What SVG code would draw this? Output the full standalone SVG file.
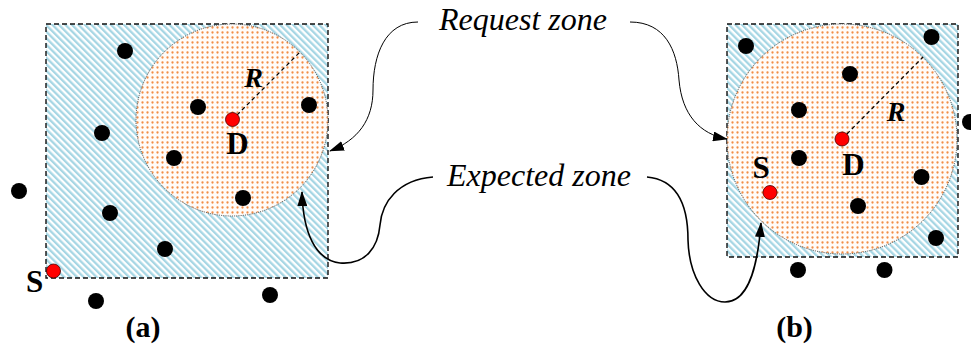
<svg xmlns="http://www.w3.org/2000/svg" width="971" height="344" viewBox="0 0 971 344">
  <style>
    .area { fill: url(#hatch); stroke: #111; stroke-width: 1.4; stroke-dasharray: 5 3; }
    .zone { fill: url(#dots); stroke: #333; stroke-width: 0.9; stroke-dasharray: 1 1.2; }
    .node { fill: #000; }
    .end { fill: #ff0000; stroke: #400; stroke-width: 0.8; }
    .radius { stroke: #000; stroke-width: 1.2; stroke-dasharray: 4 3; fill: none; }
    .lbl { font-family: "Liberation Serif", "Times New Roman", serif; font-weight: bold; font-size: 31px; text-anchor: middle; fill: #000; }
    .rlbl { font-family: "Liberation Serif", "Times New Roman", serif; font-weight: bold; font-style: italic; font-size: 28px; text-anchor: middle; fill: #000; }
    .caption { font-family: "Liberation Serif", "Times New Roman", serif; font-style: italic; font-size: 32px; text-anchor: middle; fill: #000; }
    .sub { font-family: "Liberation Serif", "Times New Roman", serif; font-weight: bold; font-size: 30px; text-anchor: middle; fill: #000; }
    .thin { fill: none; stroke: #000; stroke-width: 1; marker-end: url(#tip); }
    .thick { fill: none; stroke: #000; stroke-width: 1.6; marker-end: url(#tip); }
  </style>
  <defs>
    <pattern id="hatch" width="4.6" height="4.6" patternUnits="userSpaceOnUse" patternTransform="rotate(-45)">
      <rect width="4.6" height="4.6" fill="#fff"/>
      <rect width="2.3" height="4.6" fill="#a6d6e4"/>
    </pattern>
    <pattern id="dots" width="5" height="5" patternUnits="userSpaceOnUse">
      <rect width="5" height="5" fill="#fffbf8"/>
      <circle cx="2.5" cy="2.5" r="1.15" fill="#f28c44"/>
    </pattern>
    <marker id="tip" viewBox="0 0 15 10" refX="14" refY="5" markerWidth="15" markerHeight="10" markerUnits="userSpaceOnUse" orient="auto">
      <path d="M0,0 L15,5 L0,10 Z" fill="#000"/>
    </marker>
  </defs>

  <!-- panel (a) -->
  <g id="panel-a">
    <rect id="area-a" class="area" x="46" y="24" width="282" height="254"/>
    <circle id="zone-a" class="zone" cx="232" cy="120" r="96"/>
    <line class="radius" x1="232" y1="120" x2="300" y2="52"/>
    <g id="nodes-a">
      <circle class="node" cx="125" cy="51" r="8"/>
      <circle class="node" cx="198" cy="107" r="8"/>
      <circle class="node" cx="309" cy="105" r="8"/>
      <circle class="node" cx="102" cy="133" r="8"/>
      <circle class="node" cx="174" cy="158" r="8"/>
      <circle class="node" cx="243" cy="198" r="8"/>
      <circle class="node" cx="110" cy="213" r="8"/>
      <circle class="node" cx="165" cy="249" r="8"/>
      <circle class="node" cx="19" cy="191" r="8"/>
      <circle class="node" cx="96" cy="301" r="8"/>
      <circle class="node" cx="270" cy="295" r="8"/>
    </g>
    <g id="D-a">
      <circle class="end" cx="232.5" cy="119.5" r="7"/>
      <text class="lbl" x="237.5" y="154">D</text>
    </g>
    <g id="S-a">
      <circle class="end" cx="53.5" cy="271" r="7"/>
      <text class="lbl" x="34.5" y="292">S</text>
    </g>
    <text class="rlbl" x="253.5" y="87">R</text>
    <text class="sub" x="143" y="337">(a)</text>
  </g>

  <!-- panel (b) -->
  <g id="panel-b">
    <rect id="area-b" class="area" x="727" y="24" width="231" height="233"/>
    <circle id="zone-b" class="zone" cx="842" cy="139" r="115"/>
    <line class="radius" x1="842" y1="139" x2="923" y2="57"/>
    <g id="nodes-b">
      <circle class="node" cx="746" cy="46" r="8"/>
      <circle class="node" cx="931.5" cy="37" r="8"/>
      <circle class="node" cx="850" cy="74" r="8"/>
      <circle class="node" cx="799" cy="110" r="8"/>
      <circle class="node" cx="799" cy="158" r="8"/>
      <circle class="node" cx="921.5" cy="177" r="8"/>
      <circle class="node" cx="858" cy="206" r="8"/>
      <circle class="node" cx="936" cy="238" r="8"/>
      <circle class="node" cx="798" cy="270" r="8"/>
      <circle class="node" cx="884.5" cy="270" r="8"/>
      <circle class="node" cx="970" cy="122" r="8"/>
    </g>
    <g id="D-b">
      <circle class="end" cx="842" cy="139" r="7"/>
      <text class="lbl" x="853.5" y="175">D</text>
    </g>
    <g id="S-b">
      <circle class="end" cx="770" cy="192.5" r="7"/>
      <text class="lbl" x="761" y="178">S</text>
    </g>
    <text class="rlbl" x="896" y="120.5">R</text>
    <text class="sub" x="794.5" y="337">(b)</text>
  </g>

  <!-- callout texts -->
  <g id="request-zone">
    <text class="caption" x="523" y="30">Request zone</text>
  </g>
  <g id="expected-zone">
    <text class="caption" x="539" y="186">Expected zone</text>
  </g>

  <!-- connectors -->
  <g id="connectors">
    <path class="thin" d="M418,22 C385,22 373,55 373,90 C373,120 358,140 330,151"/>
    <path class="thin" d="M630,22 C665,22 677,50 679,80 C682,115 700,134 727,139"/>
    <path class="thick" d="M433,177 C398,180 382,202 380,225 C378,248 365,265 340,263 C315,260 303,232 302,192"/>
    <path class="thick" d="M647,177 C680,180 688,210 688,240 C689,275 705,302 725,302 C746,302 757,275 761,223"/>
  </g>
</svg>
